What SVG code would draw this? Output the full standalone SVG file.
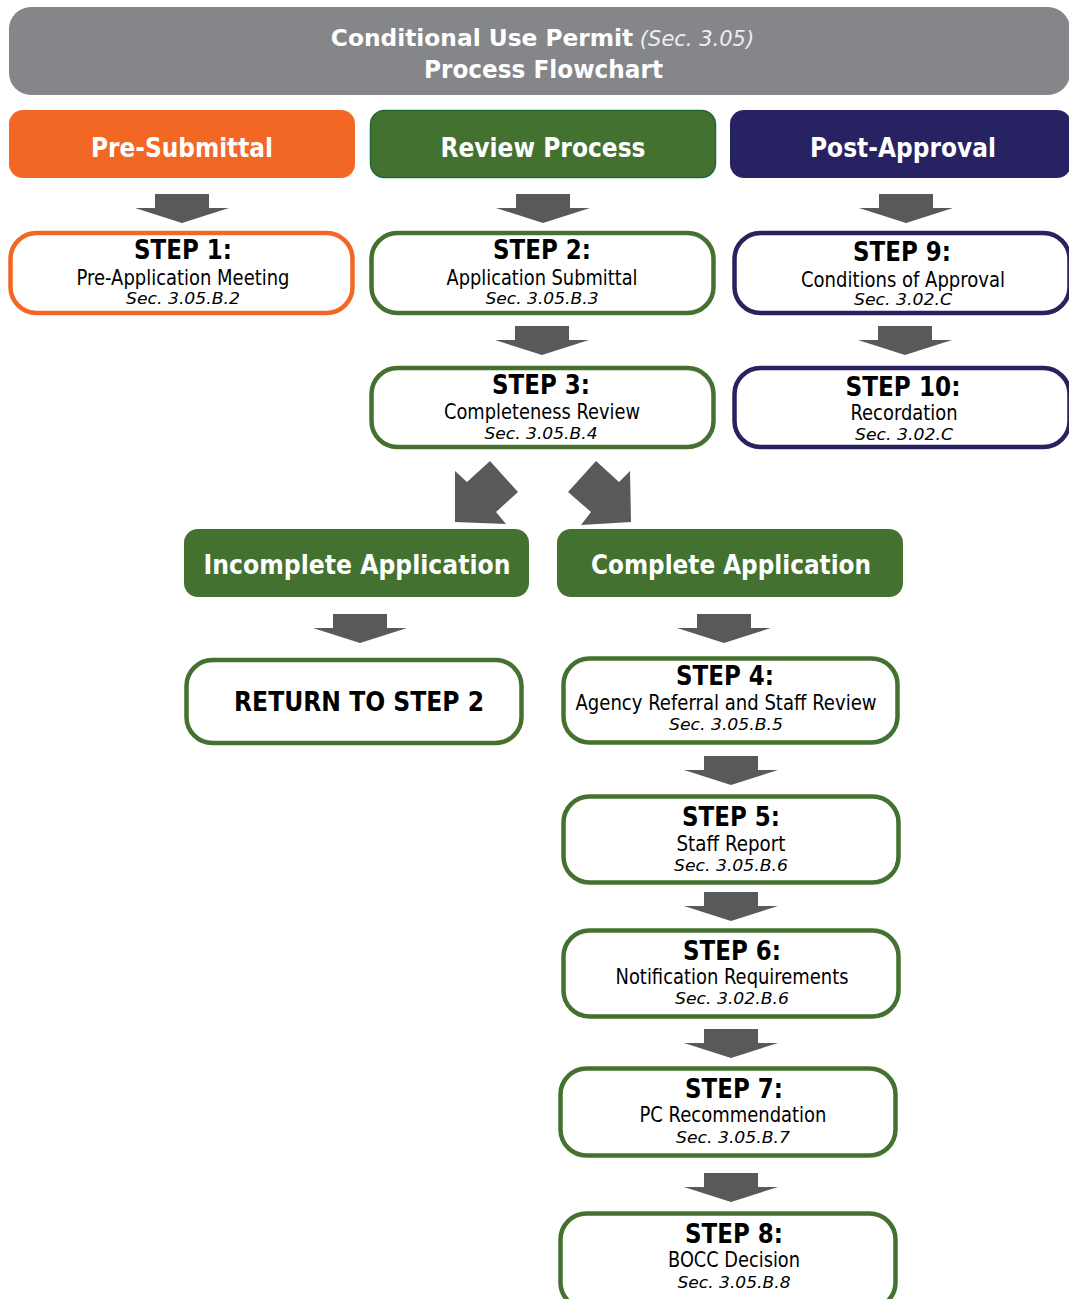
<svg xmlns="http://www.w3.org/2000/svg" width="1069" height="1299" viewBox="0 0 1069 1299">
<style>
.t{font-family:"DejaVu Sans","Liberation Sans",sans-serif;text-anchor:middle}
.b{font-weight:bold}
.hd{font-weight:bold;font-size:27px;fill:#fff}
.st{font-weight:bold;font-size:26px;fill:#000}
.sub{font-size:21px;fill:#000}
.sec{font-style:italic;font-size:16.5px;fill:#000}
.box{fill:#fff;stroke-width:4.5}
.or{stroke:#F26724}.gr{stroke:#44712F}.nv{stroke:#28225F}
.arr{fill:#58595B}
</style>
<defs>
<path id="ar" d="M-27,0 H27 V14 H47 L0,29 L-47,14 H-27 Z"/>
</defs>
<rect width="1069" height="1299" fill="#fff"/>
<g id="title">
<rect x="9" y="7" width="1061" height="88" rx="22" fill="#858689"/>
<text class="t" x="542.5" y="46" fill="#fff"><tspan font-weight="bold" font-size="23.3">Conditional Use Permit</tspan><tspan font-style="italic" font-size="21" fill="#eeeeee"> (Sec. 3.05)</tspan></text>
<text class="t b" x="543.5" y="78" font-size="25" fill="#fff" textLength="239" lengthAdjust="spacingAndGlyphs">Process Flowchart</text>
</g>
<g id="pre-submittal">
<rect x="9" y="110" width="346" height="68" rx="14" fill="#F26724"/>
<text class="t hd" x="182" y="157" textLength="182" lengthAdjust="spacingAndGlyphs">Pre-Submittal</text>
</g>
<g id="review-process">
<rect x="370.5" y="110.5" width="345" height="67" rx="14" fill="#43712F" stroke="#1F6A36" stroke-width="1.5"/>
<text class="t hd" x="543" y="157" textLength="205" lengthAdjust="spacingAndGlyphs">Review Process</text>
</g>
<g id="post-approval">
<rect x="730" y="110" width="341" height="68" rx="14" fill="#272262"/>
<text class="t hd" x="903" y="157" textLength="186" lengthAdjust="spacingAndGlyphs">Post-Approval</text>
</g>
<g id="connectors" class="arr">
<use href="#ar" x="182" y="194"/>
<use href="#ar" x="543" y="194"/>
<use href="#ar" x="906" y="194"/>
<use href="#ar" x="542" y="326"/>
<use href="#ar" x="905" y="326"/>
<polygon points="455,471 467,482 490,461 518,492 496,512 506,524 455,522"/>
<polygon points="596,461 568,492 591,512 581,525 631,522 630,471 619,482"/>
<use href="#ar" x="360" y="614"/>
<use href="#ar" x="724" y="614"/>
<use href="#ar" x="731" y="756"/>
<use href="#ar" x="731" y="892"/>
<use href="#ar" x="731" y="1029"/>
<use href="#ar" x="731" y="1173"/>
</g>
<g id="step1">
<rect class="box or" x="10.5" y="233" width="342" height="80" rx="26"/>
<text class="t st" x="183" y="259" textLength="98" lengthAdjust="spacingAndGlyphs">STEP 1:</text>
<text class="t sub" x="183" y="285" textLength="213" lengthAdjust="spacingAndGlyphs">Pre-Application Meeting</text>
<text class="t sec" x="183" y="304" textLength="114" lengthAdjust="spacingAndGlyphs">Sec. 3.05.B.2</text>
</g>
<g id="step2">
<rect class="box gr" x="371.5" y="233" width="342" height="80" rx="26"/>
<text class="t st" x="542" y="259" textLength="98" lengthAdjust="spacingAndGlyphs">STEP 2:</text>
<text class="t sub" x="542" y="285" textLength="191" lengthAdjust="spacingAndGlyphs">Application Submittal</text>
<text class="t sec" x="542" y="304" textLength="113" lengthAdjust="spacingAndGlyphs">Sec. 3.05.B.3</text>
</g>
<g id="step9">
<rect class="box nv" x="734.5" y="233" width="335" height="80" rx="26"/>
<text class="t st" x="902" y="261" textLength="98" lengthAdjust="spacingAndGlyphs">STEP 9:</text>
<text class="t sub" x="903" y="287" textLength="204" lengthAdjust="spacingAndGlyphs">Conditions of Approval</text>
<text class="t sec" x="903" y="305" textLength="98" lengthAdjust="spacingAndGlyphs">Sec. 3.02.C</text>
</g>
<g id="step3">
<rect class="box gr" x="371.5" y="368" width="342" height="79" rx="26"/>
<text class="t st" x="541" y="394" textLength="98" lengthAdjust="spacingAndGlyphs">STEP 3:</text>
<text class="t sub" x="542" y="419" textLength="196" lengthAdjust="spacingAndGlyphs">Completeness Review</text>
<text class="t sec" x="541" y="439" textLength="113" lengthAdjust="spacingAndGlyphs">Sec. 3.05.B.4</text>
</g>
<g id="step10">
<rect class="box nv" x="734.5" y="368" width="335" height="79" rx="26"/>
<text class="t st" x="903" y="396" textLength="115" lengthAdjust="spacingAndGlyphs">STEP 10:</text>
<text class="t sub" x="904" y="420" textLength="107" lengthAdjust="spacingAndGlyphs">Recordation</text>
<text class="t sec" x="904" y="440" textLength="98" lengthAdjust="spacingAndGlyphs">Sec. 3.02.C</text>
</g>
<g id="incomplete">
<rect x="184" y="529" width="345" height="68" rx="14" fill="#43712F"/>
<text class="t hd" x="357" y="574" textLength="307" lengthAdjust="spacingAndGlyphs">Incomplete Application</text>
</g>
<g id="complete">
<rect x="557" y="529" width="346" height="68" rx="14" fill="#43712F"/>
<text class="t hd" x="731" y="574" textLength="280" lengthAdjust="spacingAndGlyphs">Complete Application</text>
</g>
<g id="return">
<rect class="box gr" x="186.5" y="660" width="335" height="83" rx="26"/>
<text class="t st" x="359" y="711" textLength="250" lengthAdjust="spacingAndGlyphs">RETURN TO STEP 2</text>
</g>
<g id="step4">
<rect class="box gr" x="563.5" y="658.5" width="334" height="84" rx="26"/>
<text class="t st" x="725" y="685" textLength="98" lengthAdjust="spacingAndGlyphs">STEP 4:</text>
<text class="t sub" x="726" y="710" textLength="301" lengthAdjust="spacingAndGlyphs">Agency Referral and Staff Review</text>
<text class="t sec" x="726" y="730" textLength="114" lengthAdjust="spacingAndGlyphs">Sec. 3.05.B.5</text>
</g>
<g id="step5">
<rect class="box gr" x="563.5" y="796.5" width="335" height="86" rx="26"/>
<text class="t st" x="731" y="826" textLength="98" lengthAdjust="spacingAndGlyphs">STEP 5:</text>
<text class="t sub" x="731" y="851" textLength="109" lengthAdjust="spacingAndGlyphs">Staff Report</text>
<text class="t sec" x="731" y="871" textLength="114" lengthAdjust="spacingAndGlyphs">Sec. 3.05.B.6</text>
</g>
<g id="step6">
<rect class="box gr" x="563.5" y="930.5" width="335" height="86" rx="26"/>
<text class="t st" x="732" y="960" textLength="98" lengthAdjust="spacingAndGlyphs">STEP 6:</text>
<text class="t sub" x="732" y="984" textLength="233" lengthAdjust="spacingAndGlyphs">Notification Requirements</text>
<text class="t sec" x="732" y="1004" textLength="114" lengthAdjust="spacingAndGlyphs">Sec. 3.02.B.6</text>
</g>
<g id="step7">
<rect class="box gr" x="560.5" y="1068.5" width="335" height="87" rx="26"/>
<text class="t st" x="734" y="1098" textLength="98" lengthAdjust="spacingAndGlyphs">STEP 7:</text>
<text class="t sub" x="733" y="1122" textLength="187" lengthAdjust="spacingAndGlyphs">PC Recommendation</text>
<text class="t sec" x="733" y="1143" textLength="114" lengthAdjust="spacingAndGlyphs">Sec. 3.05.B.7</text>
</g>
<g id="step8">
<rect class="box gr" x="560.5" y="1213.5" width="335" height="95" rx="26"/>
<text class="t st" x="734" y="1243" textLength="98" lengthAdjust="spacingAndGlyphs">STEP 8:</text>
<text class="t sub" x="734" y="1267" textLength="132" lengthAdjust="spacingAndGlyphs">BOCC Decision</text>
<text class="t sec" x="734" y="1288" textLength="113" lengthAdjust="spacingAndGlyphs">Sec. 3.05.B.8</text>
</g>
</svg>
